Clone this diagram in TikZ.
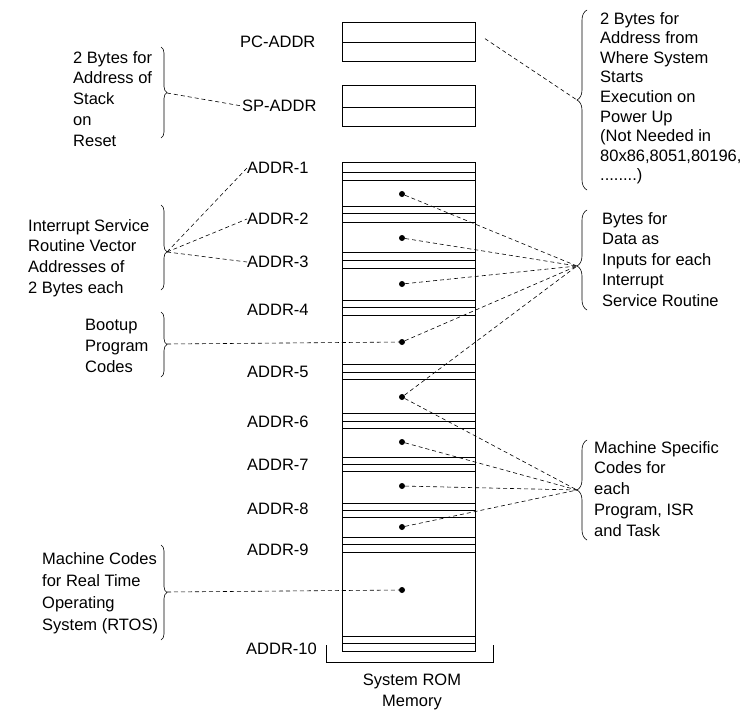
\documentclass[tikz,border=0pt]{standalone}
\usepackage{fontspec}
\setmainfont{Liberation Sans}
\usetikzlibrary{decorations.pathreplacing}

\begin{document}
\begin{tikzpicture}[
  x=1pt,y=-1pt,
  font=\fontsize{16.5}{20.8}\selectfont,
  lbl/.style={inner sep=0pt,align=left,anchor=north west},
  addr/.style={inner sep=0pt,anchor=west},
  dot/.style={circle,fill=black,inner sep=0pt,minimum size=6pt},
  cell/.style={draw=black,line width=0.7pt},
  brc/.style={decorate,decoration={brace,amplitude=6pt},line width=0.6pt},
  rbrc/.style={decorate,decoration={brace,amplitude=10pt},line width=0.6pt},
  lead/.style={draw=black,line width=0.6pt,dash pattern=on 4pt off 3pt}
]
\useasboundingbox (0,0) rectangle (753,710);

% ROM column
\draw[cell] (342,22) rectangle (475,61);
\draw[cell] (342,42) -- (475,42);
\draw[cell] (342,85) rectangle (475,126);
\draw[cell] (342,107) -- (475,107);
\draw[cell] (342,162) rectangle (475,651);
\foreach \y in {172,180,206,213,222,252,260,268,300,307,315,364,372,379,413,421,428,457,464,471,503,510,517,537,544,552,636,643}
  \draw[cell] (342,\y) -- (475,\y);
\draw[cell] (326,645) |- (493,662) -- (493,645);
\coordinate (pc) at (475,32);
\node[align=center,inner sep=0pt,anchor=north] (rom) at (412,674) {System ROM\\Memory};

% address labels
\node[addr] (pcaddr) at (240,42) {PC-ADDR};
\node[addr] (spaddr) at (242,106) {SP-ADDR};
\node[addr] (addr1) at (247,168) {ADDR-1};
\node[addr] (addr2) at (247,219) {ADDR-2};
\node[addr] (addr3) at (247,262) {ADDR-3};
\node[addr] (addr4) at (247,310) {ADDR-4};
\node[addr] (addr5) at (247,372) {ADDR-5};
\node[addr] (addr6) at (247,422) {ADDR-6};
\node[addr] (addr7) at (247,465) {ADDR-7};
\node[addr] (addr8) at (247,509) {ADDR-8};
\node[addr] (addr9) at (247,550) {ADDR-9};
\node[addr] (addr10) at (246,649) {ADDR-10};

% contents
\node[dot] (d1) at (402,194) {};
\node[dot] (d2) at (402,238) {};
\node[dot] (d3) at (402,284) {};
\node[dot] (d4) at (402,342) {};
\node[dot] (d5) at (402,397) {};
\node[dot] (d6) at (402,442) {};
\node[dot] (d7) at (402,486) {};
\node[dot] (d8) at (402,527) {};
\node[dot] (d9) at (402,590) {};

% left notes
\node[lbl] (stack) at (73,51) {2 Bytes for\\Address of\\Stack\\on\\Reset};
\node[lbl] (vector) at (28,219) {Interrupt Service\\Routine Vector\\Addresses of\\2 Bytes each};
\node[lbl] (boot) at (85,319) {Bootup\\Program\\Codes};
\node[lbl,font=\fontsize{16.5}{22}\selectfont] (rtos) at (42,552) {Machine Codes\\for Real Time\\Operating\\System (RTOS)};
\draw[brc] (161,47) -- (161,138);
\draw[brc,decoration={aspect=0.55}] (161,205) -- (161,290);
\draw[brc] (161,312) -- (161,377);
\draw[brc] (161,545) -- (161,640);
\coordinate (tb) at (167,93);
\coordinate (tv) at (167,252);
\coordinate (tp) at (167,344);
\coordinate (tr) at (167,592);

% right notes
\node[lbl,font=\fontsize{16.5}{19.6}\selectfont] (start) at (600,12) {2 Bytes for\\Address from\\Where System\\Starts\\Execution on\\Power Up\\(Not Needed in\\80x86,8051,80196,\\........)};
\node[lbl,font=\fontsize{16.5}{20.5}\selectfont] (isrdata) at (602,212) {Bytes for\\Data as\\Inputs for each\\Interrupt\\Service Routine};
\node[lbl,font=\fontsize{16.5}{20.75}\selectfont] (mcode) at (594,441) {Machine Specific\\Codes for\\each\\Program, ISR\\and Task};
\draw[rbrc] (587,190) -- (587,10);
\draw[rbrc,decoration={aspect=0.44}] (587,310) -- (587,210);
\draw[rbrc] (587,540) -- (587,440);
\coordinate (ta) at (577,100);
\coordinate (td) at (577,266);
\coordinate (tc) at (577,490);

% leaders
\draw[lead] (tb) -- (spaddr.west);
\draw[lead] (tv) -- (addr1.west);
\draw[lead] (tv) -- (addr2.west);
\draw[lead] (tv) -- (addr3.west);
\draw[lead] (tp) -- (d4);
\draw[lead] (tr) -- (d9);
\draw[lead,shorten <=12pt] (pc) -- (ta);
\foreach \d in {d1,d2,d3,d4,d5}
  \draw[lead] (\d) -- (td);
\foreach \d in {d5,d6,d7,d8}
  \draw[lead] (\d) -- (tc);
\end{tikzpicture}
\end{document}
